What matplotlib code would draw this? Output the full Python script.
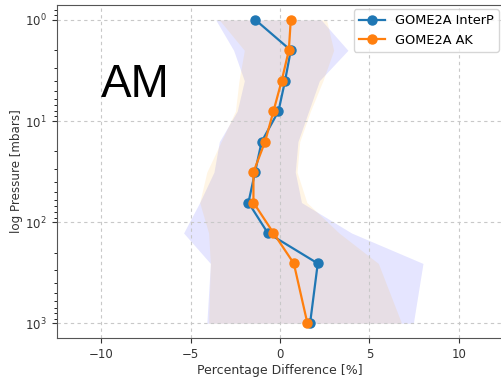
import numpy as np
import matplotlib.pyplot as plt

# pressure levels [mbar]
pressure = [1, 2, 4, 8, 16, 32, 64, 128, 256, 1000]

# mean percentage differences
interp_mean = [-1.38, 0.6, 0.28, -0.09, -1.03, -1.4, -1.77, -0.69, 2.11, 1.68]
ak_mean = [0.6, 0.49, 0.09, -0.37, -0.84, -1.49, -1.49, -0.37, 0.77, 1.53]

# spread envelopes
interp_lo = [-3.6, -2.6, -2.0, -2.4, -3.4, -3.7, -4.5, -5.4, -3.9, -4.1]
interp_hi = [2.3, 3.8, 2.2, 1.6, 1.0, 0.85, 1.2, 4.0, 8.0, 7.46]
ak_lo = [-3.4, -2.0, -2.3, -2.5, -3.3, -4.1, -4.5, -4.0, -3.9, -4.0]
ak_hi = [2.6, 3.0, 2.4, 1.7, 1.1, 0.95, 1.5, 3.3, 5.5, 6.8]

fig = plt.figure(figsize=(5.02, 3.79), dpi=100)
ax = fig.add_axes([0.113, 0.107, 0.8898, 0.8806])

ax.fill_betweenx(pressure, interp_lo, interp_hi, color='blue', alpha=0.1, lw=0)
ax.fill_betweenx(pressure, ak_lo, ak_hi, color='orange', alpha=0.1, lw=0)
ax.plot(interp_mean, pressure, 'o-', color='tab:blue', ms=6.5, lw=1.6, label='GOME2A InterP')
ax.plot(ak_mean, pressure, 'o-', color='tab:orange', ms=6.5, lw=1.6, label='GOME2A AK')

ax.set_yscale('log')
ax.set_ylim(10**3.15, 10**-0.15)
ax.set_xlim(-12.5, 12.5)
ax.grid(True, which='major', ls=(0, (3, 3)), color='#c8c8c8', lw=0.8)
ax.tick_params(labelsize=8.5, colors='#333333')
for s in ax.spines.values():
    s.set_color('#555555')

ax.set_xlabel('Percentage Difference [%]', fontsize=9, color='#333333', labelpad=2)
ax.set_ylabel('log Pressure [mbars]', fontsize=8.6, color='#333333', labelpad=2)
ax.legend(loc='upper right', fontsize=9.3, borderaxespad=0.35)

ax.text(-10, 4.4, 'AM', fontsize=33, family='Liberation Sans', ha='left', va='center')

fig.savefig('out.png', dpi=100)
